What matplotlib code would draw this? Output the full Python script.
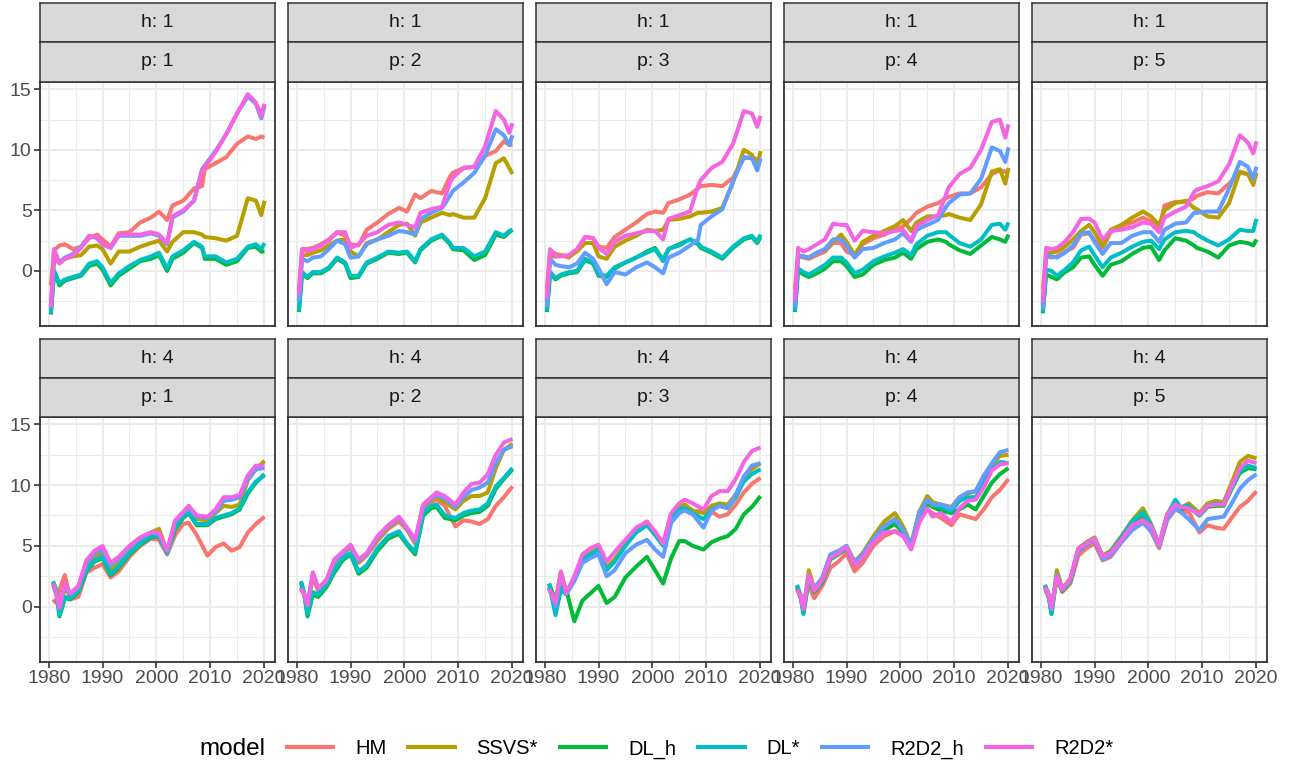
import matplotlib
matplotlib.use("Agg")
import matplotlib.pyplot as plt
from matplotlib.lines import Line2D

plt.rcParams['font.family'] = ['Liberation Sans', 'DejaVu Sans']

MODELS = ['HM', 'SSVS*', 'DL_h', 'DL*', 'R2D2_h', 'R2D2*']
COLORS = ['#F8766D', '#B79F00', '#00BA38', '#00BFC4', '#619CFF', '#F564E3']
H_LEVELS = [1, 4]
P_LEVELS = [1, 2, 3, 4, 5]
X_TICKS = [1980, 1990, 2000, 2010, 2020]
Y_TICKS = [0, 5, 10, 15]

years_h1 = [1980.4, 1981.0, 1982.0, 1983.0, 1984.5, 1986.0, 1987.5, 1989.0, 1990.0, 1991.5,
            1993.0, 1995.0, 1997.0, 1999.0, 2000.5, 2002.0, 2003.0, 2005.0, 2007.0, 2008.5,
            2009.0, 2011.0, 2013.0, 2015.0, 2017.0, 2018.5, 2019.5, 2020.1]
years_h4 = [1980.8, 1981.4, 1982.0, 1983.0, 1984.0, 1985.5, 1987.0, 1988.5, 1990.0, 1991.5,
            1993.0, 1995.0, 1997.0, 1999.0, 2000.5, 2002.0, 2003.5, 2005.0, 2006.0, 2007.5,
            2009.5, 2011.0, 2012.5, 2014.0, 2015.5, 2017.0, 2018.5, 2020.1]

# ---- h = 1 ----
h1p1_hm   = [-1.2, 1.7, 2.1, 2.2, 1.8, 2.0, 2.7, 3.0, 2.6, 2.0, 3.1, 3.2, 4.0, 4.4, 4.9, 4.2, 5.4, 5.8, 6.8, 7.0, 8.4, 8.9, 9.4, 10.5, 11.1, 10.9, 11.1, 11.0]
h1p1_ssvs = [-3.3, 0.9, 0.7, 1.0, 1.2, 1.3, 2.0, 2.1, 1.8, 0.6, 1.6, 1.6, 2.0, 2.3, 2.5, 1.6, 2.4, 3.2, 3.2, 3.0, 2.8, 2.7, 2.5, 2.9, 6.0, 5.8, 4.6, 5.8]
h1p1_dlh  = [-3.6, -0.1, -1.2, -0.8, -0.6, -0.4, 0.4, 0.6, 0.1, -1.2, -0.4, 0.2, 0.8, 1.0, 1.3, 0.0, 1.0, 1.5, 2.3, 1.9, 1.0, 1.0, 0.5, 0.8, 1.9, 2.0, 1.6, 1.6]
h1p1_dls  = [-3.5, 0.0, -1.0, -0.7, -0.5, -0.3, 0.6, 0.8, 0.3, -1.0, -0.2, 0.4, 0.9, 1.2, 1.5, 0.2, 1.2, 1.7, 2.4, 2.0, 1.2, 1.2, 0.7, 1.0, 2.0, 2.2, 1.8, 2.3]
h1p1_r2h  = [-3.1, 1.7, 0.7, 1.1, 1.4, 2.0, 2.9, 2.7, 2.2, 1.9, 2.9, 2.9, 2.9, 3.1, 2.9, 2.2, 4.4, 4.9, 5.8, 8.4, 8.7, 9.9, 11.3, 13.0, 14.4, 13.8, 12.6, 13.6]
h1p1_r2s  = [-3.0, 1.8, 0.6, 1.0, 1.3, 1.9, 2.9, 2.8, 2.2, 1.9, 3.0, 3.0, 3.0, 3.2, 3.0, 2.3, 4.5, 5.0, 5.8, 8.3, 8.6, 9.8, 11.3, 13.0, 14.6, 13.9, 12.8, 13.8]

h1p2_hm   = [-1.5, 1.8, 1.8, 1.9, 2.2, 2.6, 3.2, 2.9, 2.2, 2.1, 3.4, 4.0, 4.7, 5.2, 4.9, 6.3, 6.0, 6.6, 6.4, 7.8, 8.1, 8.5, 8.6, 9.5, 9.9, 10.7, 10.4, 10.4]
h1p2_ssvs = [-2.5, 1.3, 1.3, 1.5, 1.7, 2.1, 2.5, 2.6, 1.6, 1.2, 2.3, 2.6, 3.2, 3.8, 3.9, 2.9, 4.0, 4.4, 4.8, 4.6, 4.7, 4.4, 4.4, 6.0, 8.9, 9.3, 8.5, 8.0]
h1p2_dlh  = [-3.4, -0.2, -0.6, -0.2, -0.2, 0.2, 1.0, 0.6, -0.6, -0.5, 0.6, 1.0, 1.5, 1.4, 1.5, 0.7, 1.7, 2.5, 2.9, 2.2, 1.8, 1.7, 0.9, 1.3, 3.0, 2.8, 3.2, 3.4]
h1p2_dls  = [-3.3, -0.1, -0.5, -0.1, -0.1, 0.3, 1.1, 0.7, -0.4, -0.4, 0.7, 1.1, 1.6, 1.5, 1.6, 0.8, 1.8, 2.6, 3.0, 2.3, 1.9, 1.9, 1.2, 1.6, 3.2, 2.9, 3.3, 3.4]
h1p2_r2h  = [-2.5, 1.0, 0.8, 1.1, 1.2, 1.8, 2.5, 2.2, 1.1, 1.2, 2.2, 2.6, 2.9, 3.3, 3.2, 3.0, 4.3, 4.8, 5.2, 6.2, 6.6, 7.3, 8.1, 9.5, 11.7, 11.2, 10.4, 11.2]
h1p2_r2s  = [-2.0, 1.8, 1.6, 1.8, 2.1, 2.5, 3.2, 3.2, 1.9, 2.2, 2.9, 3.2, 3.8, 4.0, 3.8, 3.6, 4.8, 5.1, 5.3, 7.3, 7.7, 8.5, 8.6, 10.3, 13.2, 12.5, 11.4, 12.2]

h1p3_hm   = [-1.5, 1.7, 1.4, 1.3, 1.1, 1.7, 2.8, 2.7, 2.0, 1.9, 2.8, 3.4, 4.0, 4.7, 4.9, 4.8, 5.6, 5.9, 6.3, 6.8, 7.0, 7.1, 7.0, 7.7, 9.3, 9.4, 9.2, 9.3]
h1p3_ssvs = [-2.5, 1.2, 1.2, 1.3, 1.2, 1.6, 2.3, 2.3, 1.2, 1.0, 2.0, 2.5, 2.9, 3.4, 3.3, 3.4, 4.2, 4.3, 4.5, 4.8, 4.8, 4.9, 5.2, 7.3, 10.0, 9.6, 8.6, 9.9]
h1p3_dlh  = [-3.4, -0.2, -0.7, -0.4, -0.2, -0.1, 0.9, 0.6, -0.4, -0.5, 0.2, 0.7, 1.1, 1.6, 1.9, 0.9, 1.8, 2.2, 2.6, 2.2, 1.9, 1.5, 1.0, 1.9, 2.6, 2.8, 2.3, 2.8]
h1p3_dls  = [-3.3, -0.1, -0.6, -0.3, -0.1, 0.0, 1.0, 0.7, -0.3, -0.4, 0.3, 0.7, 1.1, 1.5, 1.8, 0.8, 1.8, 2.1, 2.6, 2.3, 2.0, 1.6, 1.1, 2.0, 2.7, 2.9, 2.4, 3.0]
h1p3_r2h  = [-3.0, 1.0, 0.5, 0.4, 0.3, 0.6, 1.5, 1.0, 0.2, -1.1, -0.1, -0.3, 0.3, 0.7, 0.3, -0.2, 1.1, 1.5, 2.1, 2.6, 3.8, 4.5, 5.1, 7.4, 9.4, 9.3, 8.3, 9.3]
h1p3_r2s  = [-2.3, 1.8, 1.2, 1.2, 1.3, 1.8, 2.8, 2.7, 1.9, 1.4, 2.4, 2.9, 3.1, 3.3, 3.3, 2.6, 4.3, 4.6, 4.9, 7.0, 7.5, 8.5, 9.0, 10.5, 13.2, 13.0, 11.9, 12.8]

h1p4_hm   = [-1.5, 1.2, 1.1, 1.0, 1.3, 1.6, 2.3, 2.3, 1.6, 1.3, 2.2, 2.7, 3.0, 3.4, 3.7, 4.3, 4.8, 5.3, 5.6, 6.0, 6.1, 6.4, 6.4, 6.9, 8.0, 8.3, 8.2, 8.2]
h1p4_ssvs = [-2.8, 1.2, 1.2, 1.1, 1.5, 1.8, 2.4, 3.0, 2.4, 1.3, 2.4, 2.9, 3.3, 3.7, 4.2, 3.3, 4.0, 4.5, 4.5, 4.6, 4.7, 4.4, 4.2, 5.5, 8.2, 8.4, 7.2, 8.5]
h1p4_dlh  = [-3.4, 0.0, -0.3, -0.5, -0.2, 0.2, 0.8, 0.8, 0.4, -0.5, -0.3, 0.5, 0.9, 1.1, 1.5, 1.0, 1.8, 2.4, 2.6, 2.4, 2.2, 1.7, 1.4, 2.1, 2.8, 2.6, 2.4, 3.0]
h1p4_dls  = [-3.3, 0.2, -0.1, -0.3, 0.1, 0.5, 1.1, 1.1, 0.7, -0.2, 0.1, 0.8, 1.2, 1.5, 1.8, 1.3, 2.2, 2.9, 3.2, 3.2, 3.0, 2.3, 2.0, 2.6, 3.8, 3.9, 3.4, 4.0]
h1p4_r2h  = [-3.0, 1.3, 1.2, 1.1, 1.5, 1.8, 2.6, 2.6, 2.1, 1.1, 1.8, 1.9, 2.3, 2.6, 3.1, 2.4, 3.4, 3.8, 4.2, 5.3, 5.6, 6.3, 6.4, 7.6, 10.2, 9.9, 9.0, 10.2]
h1p4_r2s  = [-2.5, 1.9, 1.6, 1.8, 2.2, 2.6, 3.9, 3.8, 3.8, 2.5, 3.3, 3.2, 3.1, 3.3, 3.4, 2.5, 3.7, 4.2, 4.6, 6.3, 6.9, 8.0, 8.5, 10.0, 12.3, 12.5, 11.0, 12.1]

h1p5_hm   = [-1.5, 1.2, 1.1, 1.2, 1.6, 1.9, 3.0, 3.1, 2.5, 1.9, 3.2, 3.7, 4.0, 4.4, 4.1, 3.4, 5.4, 5.7, 5.7, 6.0, 6.2, 6.5, 6.4, 7.2, 8.1, 8.0, 7.4, 8.1]
h1p5_ssvs = [-2.8, 1.5, 1.5, 1.6, 2.0, 2.6, 3.3, 3.8, 3.2, 2.0, 3.4, 3.8, 4.4, 4.9, 4.5, 3.8, 5.0, 5.6, 5.8, 5.2, 5.1, 4.5, 4.4, 5.6, 8.2, 8.0, 7.1, 8.1]
h1p5_dlh  = [-3.5, -0.3, -0.5, -0.7, -0.1, 0.3, 1.1, 1.2, 0.5, -0.4, 0.5, 0.8, 1.4, 1.9, 2.0, 0.9, 1.7, 2.7, 2.5, 2.1, 1.9, 1.6, 1.1, 2.1, 2.4, 2.3, 2.1, 2.6]
h1p5_dls  = [-3.4, 0.1, 0.0, -0.4, 0.1, 0.7, 1.7, 2.0, 1.3, 0.3, 1.1, 1.5, 2.0, 2.4, 2.5, 1.8, 2.6, 3.2, 3.3, 3.2, 3.0, 2.5, 2.1, 2.6, 3.4, 3.3, 3.3, 4.3]
h1p5_r2h  = [-3.2, 1.3, 1.2, 1.1, 1.5, 2.1, 3.1, 3.2, 2.4, 1.4, 2.3, 2.3, 2.9, 3.2, 3.2, 2.4, 3.4, 3.9, 4.0, 4.8, 4.8, 4.9, 4.9, 6.8, 9.0, 8.6, 7.6, 8.6]
h1p5_r2s  = [-2.6, 1.9, 1.8, 1.9, 2.4, 3.2, 4.3, 4.3, 4.0, 2.6, 3.3, 3.4, 3.6, 4.0, 3.9, 3.2, 4.4, 4.9, 5.3, 6.5, 6.7, 7.0, 7.4, 8.8, 11.2, 10.6, 9.7, 10.7]

# ---- h = 4 ----
h4p1_hm   = [0.6, 0.3, 1.4, 2.6, 0.6, 0.8, 2.8, 3.2, 3.5, 2.4, 2.9, 4.1, 5.0, 5.6, 5.5, 4.3, 5.9, 6.8, 6.9, 5.9, 4.2, 4.9, 5.2, 4.6, 4.9, 6.1, 6.8, 7.4]
h4p1_ssvs = [1.9, 1.2, -0.3, 1.5, 0.9, 1.5, 3.4, 4.1, 4.4, 3.0, 3.6, 4.7, 5.5, 6.1, 6.4, 4.5, 6.8, 7.6, 8.1, 7.2, 7.1, 7.7, 8.3, 8.2, 8.4, 10.4, 11.3, 12.0]
h4p1_dlh  = [2.0, 1.3, -0.8, 0.7, 0.6, 1.2, 2.9, 3.7, 4.0, 2.6, 3.2, 4.3, 5.1, 5.7, 5.8, 4.4, 6.4, 7.3, 7.7, 6.7, 6.7, 7.2, 7.4, 7.6, 8.0, 9.3, 10.2, 10.9]
h4p1_dls  = [2.1, 1.4, -0.7, 0.8, 0.7, 1.3, 3.0, 3.8, 4.1, 2.7, 3.3, 4.4, 5.2, 5.8, 5.8, 4.4, 6.5, 7.4, 7.8, 6.8, 6.8, 7.3, 7.5, 7.7, 8.1, 9.4, 10.3, 10.8]
h4p1_r2h  = [1.8, 1.0, 0.0, 1.7, 1.0, 1.6, 3.6, 4.4, 4.7, 3.4, 3.9, 4.9, 5.6, 6.1, 6.0, 4.6, 7.0, 7.7, 8.1, 7.4, 7.3, 7.8, 8.7, 8.8, 9.0, 10.5, 11.3, 11.4]
h4p1_r2s  = [1.9, 1.1, -0.1, 1.9, 1.1, 1.7, 3.8, 4.6, 5.0, 3.6, 4.1, 5.0, 5.7, 6.1, 6.1, 4.6, 7.1, 7.8, 8.3, 7.5, 7.4, 8.0, 9.0, 9.0, 9.2, 10.8, 11.6, 11.6]

h4p2_hm   = [1.6, 0.9, 0.3, 2.4, 1.3, 2.0, 3.5, 4.3, 4.9, 3.6, 4.2, 5.4, 6.4, 7.0, 6.3, 5.2, 8.0, 8.6, 8.8, 8.3, 6.6, 7.1, 7.0, 6.8, 7.2, 8.3, 9.0, 9.9]
h4p2_ssvs = [1.6, 1.0, 0.1, 2.6, 1.4, 2.1, 3.7, 4.4, 4.9, 3.7, 4.3, 5.6, 6.5, 7.2, 6.4, 5.3, 8.2, 8.8, 9.1, 8.6, 8.0, 8.7, 9.1, 9.1, 9.4, 11.4, 12.9, 13.4]
h4p2_dlh  = [2.0, 1.0, -0.8, 1.0, 0.8, 1.6, 2.8, 3.8, 4.3, 2.7, 3.2, 4.6, 5.6, 6.0, 5.1, 4.3, 7.5, 8.1, 8.2, 7.3, 7.1, 7.5, 7.7, 7.8, 8.3, 9.7, 10.5, 11.3]
h4p2_dls  = [2.1, 1.1, -0.6, 1.2, 1.0, 1.8, 3.0, 4.0, 4.4, 2.9, 3.4, 4.8, 5.8, 6.2, 5.2, 4.5, 7.7, 8.3, 8.4, 7.5, 7.3, 7.7, 7.9, 8.0, 8.5, 9.9, 10.6, 11.4]
h4p2_r2h  = [1.5, 1.0, 0.1, 2.8, 1.5, 2.1, 3.8, 4.4, 5.0, 3.8, 4.3, 5.7, 6.6, 7.3, 6.4, 5.4, 8.3, 8.9, 9.2, 8.9, 8.2, 9.0, 9.6, 9.8, 10.2, 11.8, 12.9, 13.2]
h4p2_r2s  = [1.5, 1.0, 0.1, 2.8, 1.5, 2.2, 3.9, 4.5, 5.1, 3.9, 4.4, 5.8, 6.7, 7.4, 6.5, 5.5, 8.4, 9.0, 9.4, 9.1, 8.4, 9.4, 10.1, 10.2, 10.9, 12.5, 13.5, 13.8]

h4p3_hm   = [1.6, 0.9, 0.4, 2.9, 1.2, 2.3, 4.0, 4.4, 4.8, 3.2, 3.9, 5.1, 6.2, 6.9, 6.0, 5.1, 7.5, 8.1, 8.3, 7.8, 7.9, 7.8, 7.4, 7.6, 8.4, 9.4, 10.1, 10.6]
h4p3_ssvs = [1.6, 0.9, 0.3, 2.8, 1.2, 2.3, 4.0, 4.4, 4.8, 3.2, 3.9, 5.1, 6.3, 7.0, 6.0, 5.1, 7.6, 8.2, 8.4, 7.9, 7.7, 8.3, 8.5, 8.4, 9.2, 10.6, 11.3, 11.8]
h4p3_dlh  = [1.9, 1.2, 0.5, 1.8, 1.4, -1.2, 0.5, 1.1, 1.7, 0.3, 0.8, 2.4, 3.3, 4.1, 3.0, 1.9, 4.0, 5.4, 5.4, 5.0, 4.7, 5.3, 5.6, 5.8, 6.4, 7.6, 8.2, 9.1]
h4p3_dls  = [1.9, 0.6, -0.7, 1.4, 1.0, 2.2, 3.9, 4.3, 4.7, 3.0, 3.7, 5.0, 6.1, 6.7, 5.9, 5.0, 7.4, 8.0, 8.1, 7.7, 7.2, 8.0, 8.3, 8.1, 9.0, 10.3, 10.9, 11.3]
h4p3_r2h  = [1.5, 0.8, 0.0, 2.5, 1.1, 2.1, 3.6, 4.0, 4.3, 2.5, 3.0, 4.4, 5.1, 5.5, 4.7, 4.1, 6.9, 7.7, 7.9, 7.6, 6.5, 7.9, 8.3, 8.1, 9.2, 10.7, 11.6, 11.8]
h4p3_r2s  = [1.4, 1.0, 0.3, 2.8, 1.1, 2.5, 4.3, 4.8, 5.1, 3.7, 4.5, 5.5, 6.5, 7.0, 6.2, 5.2, 7.7, 8.5, 8.8, 8.5, 8.0, 9.1, 9.5, 9.5, 10.5, 11.9, 12.8, 13.1]

h4p4_hm   = [1.5, 0.8, 0.6, 1.7, 0.7, 1.7, 3.2, 3.7, 4.4, 2.9, 3.6, 5.0, 5.8, 6.2, 5.9, 4.8, 7.0, 8.0, 7.7, 7.3, 6.7, 7.6, 7.4, 7.2, 8.0, 9.0, 9.6, 10.5]
h4p4_ssvs = [1.6, 1.0, -0.2, 3.0, 1.5, 2.3, 4.2, 4.5, 5.0, 3.7, 4.4, 5.8, 7.0, 7.7, 6.6, 5.1, 7.8, 9.1, 8.6, 8.4, 8.2, 9.0, 9.3, 9.5, 10.6, 11.7, 12.4, 12.5]
h4p4_dlh  = [1.7, 0.9, -0.5, 2.3, 1.2, 2.0, 3.9, 4.3, 4.8, 3.4, 4.0, 5.3, 6.3, 6.8, 6.1, 4.9, 7.4, 8.5, 8.2, 7.9, 7.7, 8.0, 8.4, 8.0, 9.1, 10.2, 10.9, 11.4]
h4p4_dls  = [1.8, 1.0, -0.6, 2.4, 1.3, 2.1, 4.0, 4.4, 4.9, 3.5, 4.2, 5.5, 6.6, 7.2, 6.3, 5.0, 7.6, 8.7, 8.4, 8.2, 7.9, 8.7, 9.0, 9.0, 10.2, 11.3, 11.9, 11.8]
h4p4_r2h  = [1.4, 1.0, 0.0, 2.6, 1.5, 2.4, 4.3, 4.6, 5.0, 3.6, 4.3, 5.6, 6.6, 7.2, 6.3, 5.0, 7.7, 8.8, 8.4, 8.4, 8.1, 9.0, 9.4, 9.5, 10.8, 11.8, 12.7, 12.9]
h4p4_r2s  = [1.4, 1.0, -0.2, 2.6, 1.3, 2.2, 4.0, 4.4, 4.9, 3.4, 4.0, 5.3, 6.1, 6.2, 5.8, 4.7, 6.9, 8.1, 7.4, 7.7, 7.0, 8.1, 8.7, 8.8, 9.8, 11.2, 11.7, 11.8]

h4p5_hm   = [1.5, 0.8, -0.1, 2.4, 1.2, 1.9, 4.2, 4.8, 5.2, 3.8, 4.1, 5.3, 6.4, 7.2, 6.2, 4.8, 7.1, 8.0, 7.8, 7.8, 6.1, 6.7, 6.5, 6.4, 7.3, 8.2, 8.7, 9.5]
h4p5_ssvs = [1.7, 1.1, -0.3, 3.0, 1.5, 2.3, 4.8, 5.3, 5.7, 4.2, 4.6, 5.8, 7.1, 8.1, 6.8, 5.1, 7.6, 8.6, 8.1, 8.5, 7.7, 8.5, 8.7, 8.6, 10.2, 11.9, 12.4, 12.2]
h4p5_dlh  = [1.7, 1.0, -0.6, 2.5, 1.3, 2.1, 4.6, 5.1, 5.5, 4.0, 4.4, 5.6, 6.9, 7.6, 6.6, 5.0, 7.4, 8.6, 8.0, 8.2, 7.5, 8.2, 8.3, 8.3, 9.7, 11.0, 11.4, 11.3]
h4p5_dls  = [1.8, 1.1, -0.5, 2.6, 1.4, 2.2, 4.7, 5.2, 5.6, 4.1, 4.5, 5.7, 7.0, 7.8, 6.7, 5.1, 7.5, 8.8, 8.2, 8.3, 7.5, 8.3, 8.5, 8.4, 9.8, 11.2, 11.6, 11.4]
h4p5_r2h  = [1.5, 1.0, -0.2, 2.6, 1.4, 2.2, 4.6, 5.1, 5.5, 3.9, 4.2, 5.3, 6.3, 6.9, 6.2, 5.0, 7.2, 8.1, 7.8, 7.2, 6.3, 7.2, 7.3, 7.4, 8.5, 9.7, 10.4, 10.9]
h4p5_r2s  = [1.6, 1.1, -0.1, 2.5, 1.4, 2.3, 4.8, 5.2, 5.6, 4.1, 4.4, 5.5, 6.7, 7.1, 6.6, 5.1, 7.6, 8.4, 8.2, 8.1, 7.6, 8.3, 8.4, 8.4, 9.9, 11.4, 12.0, 11.8]

DATA = {
    (1, 1): [h1p1_hm, h1p1_ssvs, h1p1_dlh, h1p1_dls, h1p1_r2h, h1p1_r2s],
    (1, 2): [h1p2_hm, h1p2_ssvs, h1p2_dlh, h1p2_dls, h1p2_r2h, h1p2_r2s],
    (1, 3): [h1p3_hm, h1p3_ssvs, h1p3_dlh, h1p3_dls, h1p3_r2h, h1p3_r2s],
    (1, 4): [h1p4_hm, h1p4_ssvs, h1p4_dlh, h1p4_dls, h1p4_r2h, h1p4_r2s],
    (1, 5): [h1p5_hm, h1p5_ssvs, h1p5_dlh, h1p5_dls, h1p5_r2h, h1p5_r2s],
    (4, 1): [h4p1_hm, h4p1_ssvs, h4p1_dlh, h4p1_dls, h4p1_r2h, h4p1_r2s],
    (4, 2): [h4p2_hm, h4p2_ssvs, h4p2_dlh, h4p2_dls, h4p2_r2h, h4p2_r2s],
    (4, 3): [h4p3_hm, h4p3_ssvs, h4p3_dlh, h4p3_dls, h4p3_r2h, h4p3_r2s],
    (4, 4): [h4p4_hm, h4p4_ssvs, h4p4_dlh, h4p4_dls, h4p4_r2h, h4p4_r2s],
    (4, 5): [h4p5_hm, h4p5_ssvs, h4p5_dlh, h4p5_dls, h4p5_r2h, h4p5_r2s],
}
YEARS = {1: years_h1, 4: years_h4}

W, H = 1292, 764
fig = plt.figure(figsize=(W / 100, H / 100), dpi=100)


def box(x0, y0, x1, y1):
    return [x0 / W, 1 - y1 / H, (x1 - x0) / W, (y1 - y0) / H]


col_x = [40, 288, 536, 784, 1032]
pw = 235
rows = [
    dict(plot=(82, 326), s1=(3, 42), s2=(42, 82)),
    dict(plot=(417, 662), s1=(339, 378), s2=(378, 417)),
]


def strip(x0, x1, y0, y1, label):
    s = fig.add_axes(box(x0, y0, x1, y1))
    s.set_facecolor('#D9D9D9')
    s.set_xticks([])
    s.set_yticks([])
    for sp in s.spines.values():
        sp.set_color('#333333')
        sp.set_linewidth(1.1)
    s.text(0.5, 0.5, label, ha='center', va='center', fontsize=14,
           color='#1A1A1A', transform=s.transAxes)


for r, h in enumerate(H_LEVELS):
    for c, p in enumerate(P_LEVELS):
        x0 = col_x[c]
        x1 = x0 + pw
        y0, y1 = rows[r]['plot']
        ax = fig.add_axes(box(x0, y0, x1, y1))
        for vals, color in zip(DATA[(h, p)], COLORS):
            ax.plot(YEARS[h], vals, color=color, lw=2.9,
                    solid_joinstyle='round', solid_capstyle='butt', zorder=3)
        ax.set_xlim(1978.38, 2022.05)
        ax.set_ylim(-4.55, 15.6)
        ax.set_xticks(X_TICKS)
        ax.set_xticks([1985, 1995, 2005, 2015], minor=True)
        ax.set_yticks(Y_TICKS)
        ax.set_yticks([-2.5, 2.5, 7.5, 12.5], minor=True)
        ax.set_axisbelow(True)
        ax.grid(which='major', color='#EBEBEB', lw=1.5)
        ax.grid(which='minor', color='#EBEBEB', lw=0.75)
        for sp in ax.spines.values():
            sp.set_color('#333333')
            sp.set_linewidth(1.3)
        ax.tick_params(which='minor', length=0)
        ax.tick_params(which='major', color='#333333', width=1.2, length=4.0,
                       labelsize=14, labelcolor='#4D4D4D', pad=2)
        if r == 0:
            ax.tick_params(axis='x', length=0, labelbottom=False)
        if c > 0:
            ax.tick_params(axis='y', length=0, labelleft=False)
        s1 = rows[r]['s1']
        s2 = rows[r]['s2']
        strip(x0, x1, s1[0], s1[1], f'h: {h}')
        strip(x0, x1, s2[0], s2[1], f'p: {p}')

handles = [Line2D([], [], color=col, lw=3.0, solid_capstyle='butt') for col in COLORS]
leg = fig.legend(handles, MODELS, loc='center left',
                 bbox_to_anchor=(285 / W, 1 - 749 / H), ncol=6, frameon=False,
                 fontsize=14.5, handlelength=2.5, handletextpad=0.98,
                 columnspacing=1.0, borderpad=0, borderaxespad=0)
fig.text(199 / W, 1 - 749 / H, 'model', fontsize=17.5, va='center', ha='left')

fig.savefig('out.png', dpi=100)
